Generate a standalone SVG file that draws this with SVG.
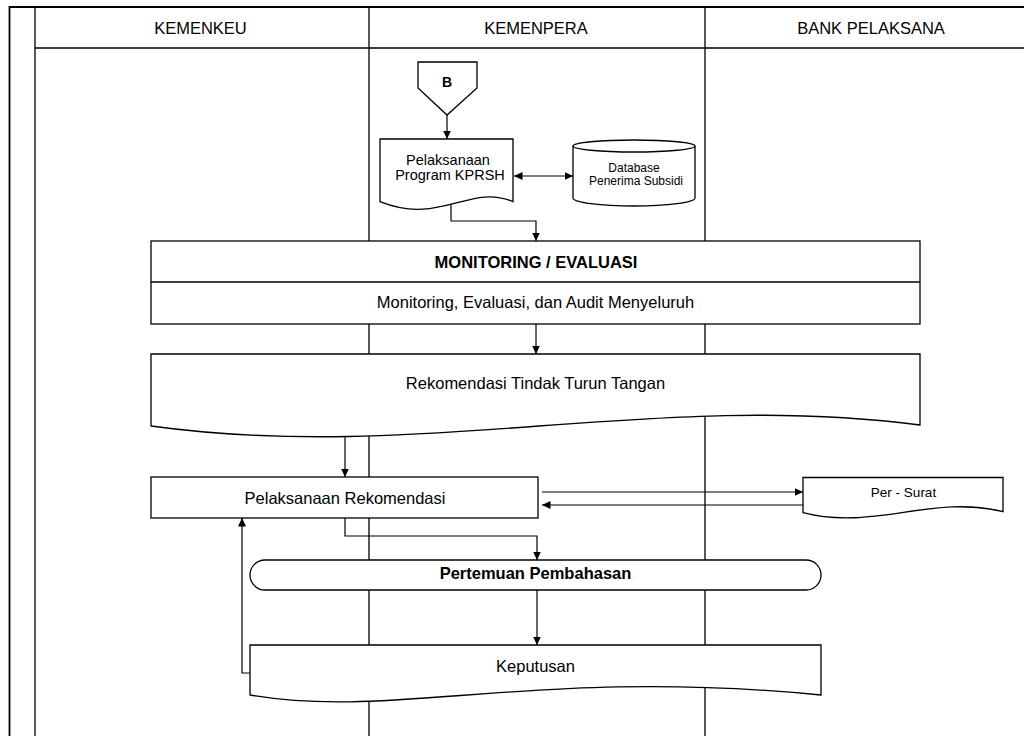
<svg xmlns="http://www.w3.org/2000/svg" width="1024" height="736" viewBox="0 0 1024 736">
<style>
text{font-family:"Liberation Sans",Arial,sans-serif;fill:#000;text-anchor:middle}
.t{font-size:16.5px}
.b{font-size:16.5px;font-weight:bold}
.s{font-size:14.5px}
.xs{font-size:12px}
.shape{fill:#fff;stroke:#000;stroke-width:1.3}
.lane{stroke:#000;stroke-width:1.3;fill:none}
.frame{stroke:#000;stroke-width:1.8;fill:none}
.conn{stroke:#000;stroke-width:1.2;fill:none;marker-end:url(#ah)}
</style>
<defs>
<marker id="ah" markerWidth="9" markerHeight="8" refX="8.5" refY="4" orient="auto-start-reverse" markerUnits="userSpaceOnUse">
<path d="M0,0 L8.5,4 L0,8 z" fill="#000"/>
</marker>
</defs>
<rect width="1024" height="736" fill="#fff"/>
<g id="lanes">
<path class="frame" d="M9.5,736 V7 H1024"/>
<path class="lane" d="M35,7 V736 M35,48 H1024 M369,7 V736 M705,7 V736"/>
<text class="t" x="200.5" y="33.5">KEMENKEU</text>
<text class="t" x="536" y="33.5">KEMENPERA</text>
<text class="t" x="871" y="33.5">BANK PELAKSANA</text>
</g>
<g id="connectors">
<path class="conn" d="M447,115 V139"/>
<path class="conn" style="marker-start:url(#ah)" d="M514,176 H573"/>
<path class="conn" d="M451,204 V221 H536 V241"/>
<path class="conn" d="M536,324 V354"/>
<path class="conn" d="M345,436 V477"/>
<path class="conn" d="M542,492 H803"/>
<path class="conn" d="M803,505 H542"/>
<path class="conn" d="M345,518 V536 H537 V560"/>
<path class="conn" d="M537,590 V645"/>
<path class="conn" d="M250,673 H242 V518"/>
</g>
<g id="node-b">
<path class="shape" d="M418,62 H477 V88 L447,115 L418,88 Z"/>
<text x="447" y="87" style="font-size:14px;font-weight:bold">B</text>
</g>
<g id="node-kprsh">
<path class="shape" d="M380,139 H513 V201.7 C470,183 440,226 380,201.7 Z"/>
<text class="s" x="448" y="165">Pelaksanaan</text>
<text class="s" x="450" y="179.5">Program KPRSH</text>
</g>
<g id="node-database">
<path class="shape" d="M573,146 A61,6 0 0 1 695,146 V198 A61,8 0 0 1 573,198 Z"/>
<path class="shape" style="fill:none" d="M573,146 A61,6 0 0 0 695,146"/>
<text class="xs" x="634" y="171.7">Database</text>
<text class="xs" x="636" y="185">Penerima Subsidi</text>
</g>
<g id="node-monitoring">
<rect class="shape" x="151" y="241" width="769" height="83"/>
<line class="lane" x1="151" y1="282" x2="920" y2="282"/>
<text class="b" x="536" y="268.3">MONITORING / EVALUASI</text>
<text class="t" x="535.5" y="308.3">Monitoring, Evaluasi, dan Audit Menyeluruh</text>
</g>
<g id="node-rekomendasi">
<path class="shape" d="M151,354 H920 V425 C651,390 420,463 151,426 Z"/>
<text class="t" x="535.5" y="389.3">Rekomendasi Tindak Turun Tangan</text>
</g>
<g id="node-pelaksanaan-rek">
<rect class="shape" x="151" y="477" width="387" height="41"/>
<text class="t" x="345" y="504.3">Pelaksanaan Rekomendasi</text>
</g>
<g id="node-persurat">
<path class="shape" d="M803,477.5 H1003 V511.7 C933,494 873,531 803,512.7 Z"/>
<text x="903.5" y="496.7" style="font-size:13.5px">Per - Surat</text>
</g>
<g id="node-pertemuan">
<rect class="shape" x="250" y="560" width="571" height="30" rx="15" ry="15"/>
<text class="b" x="535.5" y="579.3">Pertemuan Pembahasan</text>
</g>
<g id="node-keputusan">
<path class="shape" d="M250,645 H821 V695 C535,667 393,720 250,695 Z"/>
<text class="t" x="535.5" y="671.7">Keputusan</text>
</g>
</svg>
